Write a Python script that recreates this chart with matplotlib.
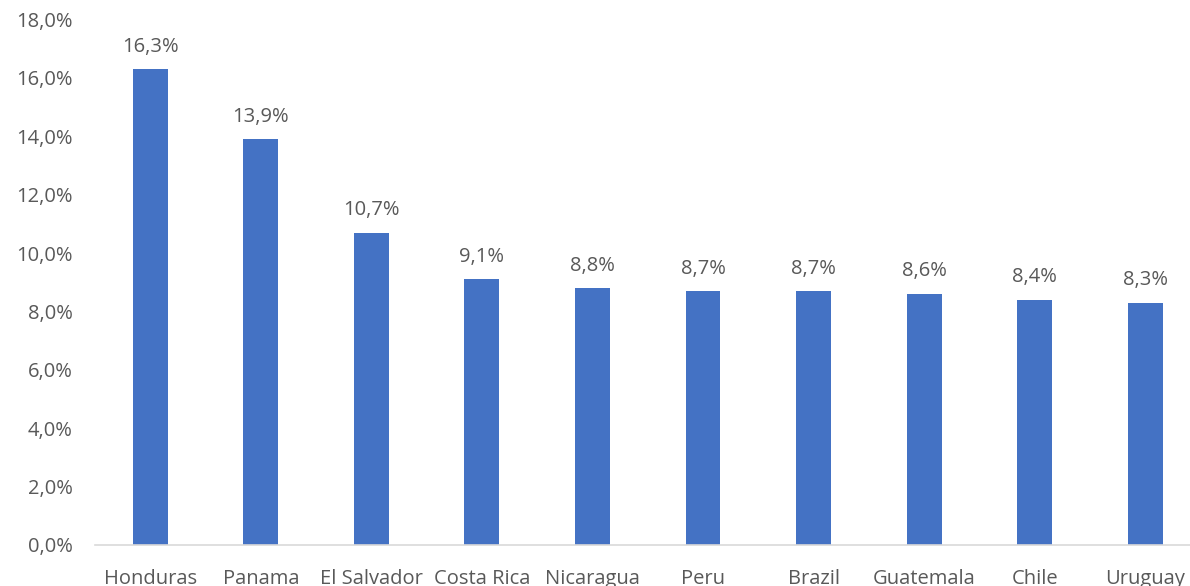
import numpy as np
import matplotlib.pyplot as plt

countries = ['Honduras', 'Panama', 'El Salvador', 'Costa Rica', 'Nicaragua',
             'Peru', 'Brazil', 'Guatemala', 'Chile', 'Uruguay']
rates = [16.3, 13.9, 10.7, 9.1, 8.8, 8.7, 8.7, 8.6, 8.4, 8.3]
y_ticks = [0, 2, 4, 6, 8, 10, 12, 14, 16, 18]

plt.rcParams['font.family'] = ['Open Sans', 'DejaVu Sans']
text_color = '#595959'
fs = 14.5

fig = plt.figure(figsize=(11.9, 5.86), dpi=100)
ax = fig.add_axes([0.0798, 0.07, 0.929, 0.8966])

x = np.arange(len(countries))
bars = ax.bar(x, rates, width=0.315, color='#4472C4', zorder=2)

# value labels above each bar, decimal comma
for xi, v in zip(x, rates):
    ax.annotate(f'{v:.1f}%'.replace('.', ','), (xi, v), xytext=(0, 9),
                textcoords='offset points', ha='center', va='bottom',
                fontsize=fs, color=text_color)

ax.set_xlim(-0.5, len(countries) - 0.5)
ax.set_ylim(0, 18)
ax.set_yticks(y_ticks)
ax.set_yticklabels([f'{t:.1f}%'.replace('.', ',') for t in y_ticks])
ax.set_xticks(x)
ax.set_xticklabels(countries)

for side in ['top', 'right', 'left']:
    ax.spines[side].set_visible(False)
ax.spines['bottom'].set_color('#D9D9D9')
ax.spines['bottom'].set_linewidth(1.2)
ax.tick_params(axis='both', length=0, labelsize=fs, colors=text_color)
ax.tick_params(axis='x', pad=17.5)
ax.tick_params(axis='y', pad=16)

fig.savefig('out.png', dpi=100)
